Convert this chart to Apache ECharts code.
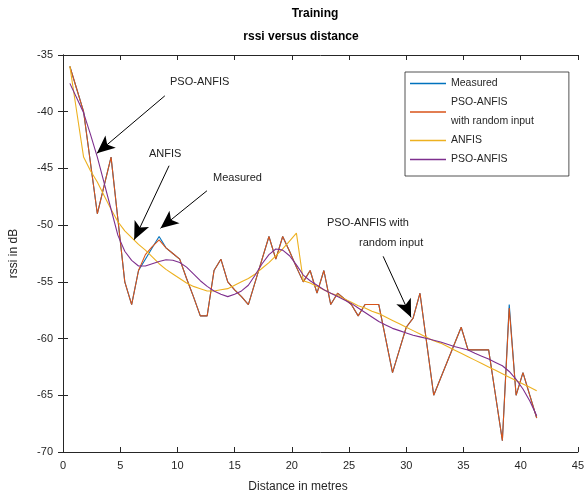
<!DOCTYPE html>
<html>
<head>
<meta charset="utf-8">
<title>rssi versus distance</title>
<script src="https://cdn.jsdelivr.net/npm/echarts@6/dist/echarts.min.js"></script>
<style>
    html, body { margin: 0; padding: 0; background: #fff; }
    #main { width: 587px; height: 501px; }
</style>
</head>
<body>
<div id="main"></div>
<script>
// 数据
var distance = [0.6, 1.2, 1.8, 2.4, 3.0, 3.6, 4.2, 4.8, 5.4, 6.0, 6.6, 7.2, 7.8, 8.4, 9.0, 9.6, 10.2, 10.8, 11.4, 12.0,
    12.6, 13.2, 13.8, 14.4, 15.0, 15.6, 16.2, 16.8, 17.4, 18.0, 18.6, 19.2, 19.8, 20.4, 21.0, 21.6, 22.2, 22.8, 23.4, 24.0,
    24.6, 25.2, 25.8, 26.4, 27.0, 27.6, 28.2, 28.8, 29.4, 30.0, 30.6, 31.2, 31.8, 32.4, 33.0, 33.6, 34.2, 34.8, 35.4, 36.0,
    36.6, 37.2, 37.8, 38.4, 39.0, 39.6, 40.2, 40.8, 41.4];

var measured = [-36, -38, -40, -44.5, -49, -46.5, -44, -49.5, -55, -57, -54, -53, -52, -51, -52, -52.5, -53, -54.7, -56.3, -58,
    -58, -54, -53, -55, -55.7, -56.3, -57, -55, -53, -51, -53, -51, -52.3, -53.7, -55, -54, -56, -54, -57, -56,
    -56.5, -57, -58, -57, -57, -57, -60, -63, -61, -59, -58.2, -56, -60.5, -65, -63.5, -62, -60.5, -59, -61, -61,
    -61, -61, -65, -69, -57, -65, -63, -65, -67];

var psoRandom = [-36, -38, -40, -44.5, -49, -46.5, -44, -49.5, -55, -57, -54, -52.6, -51.9, -51.3, -52, -52.5, -53, -54.7, -56.3, -58,
    -58, -54, -53, -55, -55.7, -56.3, -57, -55, -53, -51, -53, -51, -52.3, -53.7, -55, -54, -56, -54, -57, -56,
    -56.5, -57, -58, -57, -57, -57, -60, -63, -61, -59, -58.2, -56, -60.5, -65, -63.5, -62, -60.5, -59, -61, -61,
    -61, -61, -65, -69, -57.3, -65, -63, -65, -67];

var anfis = [-36, -40, -44, -45.2, -46.2, -47.4, -48.6, -49.7, -50.5, -51.1, -51.7, -52.2, -52.8, -53.4, -53.9, -54.3, -54.7, -55.1, -55.4, -55.6,
    -55.8, -55.8, -55.7, -55.6, -55.3, -55.0, -54.7, -54.3, -53.8, -53.3, -52.7, -52.1, -51.4, -50.7, -54.9, -55.1, -55.4, -55.7, -56.0, -56.2,
    -56.5, -56.8, -57.1, -57.3, -57.6, -57.8, -58.1, -58.4, -58.7, -59.0, -59.3, -59.6, -59.9, -60.2, -60.4, -60.7, -61.0, -61.3, -61.6, -61.9,
    -62.2, -62.5, -62.8, -63.1, -63.4, -63.7, -64.0, -64.3, -64.6];

var psoAnfis = [-37.5, -38.8, -40.1, -42.0, -44.0, -46.3, -48.6, -50.9, -52.3, -53.1, -53.6, -53.6, -53.4, -53.2, -53.05, -53.1, -53.3, -53.7, -54.3, -54.9,
    -55.4, -55.8, -56.1, -56.3, -56.1, -55.8, -55.3, -54.4, -53.4, -52.6, -52.1, -52.2, -52.7, -53.5, -54.4, -54.9, -55.3, -55.7, -56.0, -56.3,
    -56.6, -56.9, -57.3, -57.7, -58.1, -58.5, -58.8, -59.1, -59.3, -59.5, -59.7, -59.85, -60.0, -60.15, -60.3, -60.5, -60.7, -60.85, -61.0, -61.3,
    -61.55, -61.8, -62.1, -62.4, -62.9, -63.6, -64.45, -65.5, -66.8];

// 标注箭头 (起点 -> 箭头尖, 数据坐标)
var arrowFrom = [[8.9, -38.6], [9.27, -44.76], [12.58, -46.97], [27.98, -52.75]];
var arrowTo = [[2.96, -43.67], [6.22, -51.29], [8.52, -50.28], [30.42, -58.13]];

function pairs(xs, ys) {
    var out = [];
    for (var i = 0; i < xs.length; i++) {
        out.push([xs[i], ys[i]]);
    }
    return out;
}

var font = 'Liberation Sans, Arial, Helvetica, sans-serif';
var axisColor = '#262626';

var arrowData = [];
for (var i = 0; i < arrowFrom.length; i++) {
    arrowData.push([{ coord: arrowFrom[i] }, { coord: arrowTo[i] }]);
}

var myChart = echarts.init(document.getElementById('main'));

var option = {
    animation: false,
    textStyle: { fontFamily: font },
    grid: { left: 62, right: 4, top: 55, bottom: 49 },
    legend: {
        orient: 'vertical',
        left: 405,
        top: 72,
        padding: [2, 35, 7, 5],
        itemGap: 0,
        itemWidth: 36,
        itemHeight: 1.5,
        icon: 'rect',
        borderColor: '#262626',
        borderWidth: 0.8,
        backgroundColor: '#fff',
        textStyle: { fontSize: 10.5, color: '#262626', lineHeight: 19, fontFamily: font },
        data: ['Measured', 'PSO-ANFIS\nwith random input', 'ANFIS', 'PSO-ANFIS']
    },
    graphic: [
        { type: 'text', x: 315, y: 8, style: { text: 'Training', font: 'bold 12px ' + font, fill: '#000', textAlign: 'center' } },
        { type: 'text', x: 301, y: 31, style: { text: 'rssi versus distance', font: 'bold 12px ' + font, fill: '#000', textAlign: 'center' } },
        { type: 'text', x: 298, y: 481, style: { text: 'Distance in metres', font: '12px ' + font, fill: axisColor, textAlign: 'center' } },
        { type: 'text', x: 170, y: 76, style: { text: 'PSO-ANFIS', font: '11px ' + font, fill: '#222' } },
        { type: 'text', x: 149, y: 148, style: { text: 'ANFIS', font: '11px ' + font, fill: '#222' } },
        { type: 'text', x: 213, y: 172, style: { text: 'Measured', font: '11px ' + font, fill: '#222' } },
        { type: 'text', x: 327, y: 217, style: { text: 'PSO-ANFIS with', font: '11px ' + font, fill: '#222' } },
        { type: 'text', x: 359, y: 237, style: { text: 'random input', font: '11px ' + font, fill: '#222' } }
    ],
    xAxis: [{
        type: 'value',
        min: 0,
        max: 45,
        interval: 5,
        axisLine: { lineStyle: { color: axisColor, width: 1 } },
        axisTick: { inside: true, length: 5, lineStyle: { color: axisColor } },
        axisLabel: { color: axisColor, fontSize: 11, margin: 8 },
        splitLine: { show: false }
    }, {
        type: 'value',
        position: 'top',
        min: 0,
        max: 45,
        interval: 5,
        axisLine: { show: true, lineStyle: { color: axisColor, width: 1 } },
        axisTick: { inside: true, length: 5, lineStyle: { color: axisColor } },
        axisLabel: { show: false },
        splitLine: { show: false }
    }],
    yAxis: [{
        type: 'value',
        min: -70,
        max: -35,
        interval: 5,
        name: 'rssi in dB',
        nameLocation: 'middle',
        nameGap: 43,
        nameTextStyle: { color: axisColor, fontSize: 12 },
        axisLine: { show: true, lineStyle: { color: axisColor, width: 1 } },
        axisTick: { inside: true, length: 5, lineStyle: { color: axisColor } },
        axisLabel: { color: axisColor, fontSize: 11, margin: 10 },
        splitLine: { show: false }
    }, {
        type: 'value',
        position: 'right',
        min: -70,
        max: -35,
        interval: 5,
        axisLine: { show: true, lineStyle: { color: axisColor, width: 1 } },
        axisTick: { inside: true, length: 5, lineStyle: { color: axisColor } },
        axisLabel: { show: false },
        splitLine: { show: false }
    }],
    series: [{
        name: 'Measured',
        type: 'line',
        data: pairs(distance, measured),
        showSymbol: false,
        symbol: 'none',
        color: '#0072BD',
        lineStyle: { width: 1.1 }
    }, {
        name: 'PSO-ANFIS\nwith random input',
        type: 'line',
        data: pairs(distance, psoRandom),
        showSymbol: false,
        symbol: 'none',
        color: '#D95319',
        lineStyle: { width: 1.1 }
    }, {
        name: 'ANFIS',
        type: 'line',
        data: pairs(distance, anfis),
        showSymbol: false,
        symbol: 'none',
        color: '#EDB120',
        lineStyle: { width: 1.1 }
    }, {
        name: 'PSO-ANFIS',
        type: 'line',
        data: pairs(distance, psoAnfis),
        showSymbol: false,
        symbol: 'none',
        color: '#7E2F8E',
        lineStyle: { width: 1.1 },
        markLine: {
            silent: true,
            animation: false,
            symbol: ['none', 'arrow'],
            symbolSize: [12, 18],
            label: { show: false },
            lineStyle: { color: '#000', width: 1, type: 'solid' },
            itemStyle: { color: '#000' },
            emphasis: { disabled: true },
            data: arrowData
        }
    }]
};

myChart.setOption(option);
</script>
</body>
</html>
